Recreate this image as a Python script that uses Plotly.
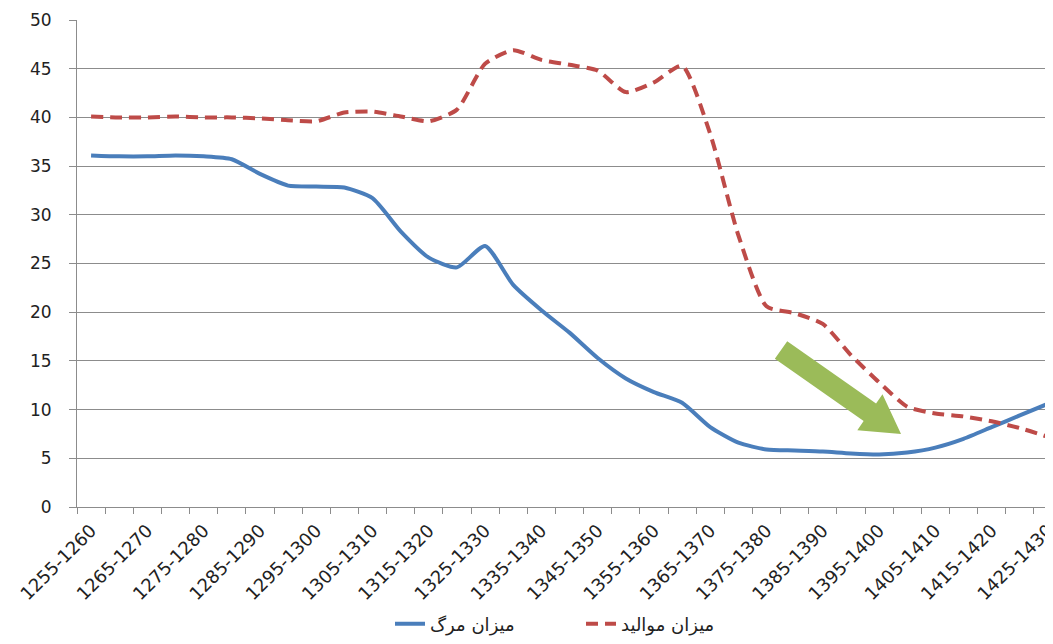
import plotly.graph_objects as go

categories = [
    "1255-1260", "1260-1265", "1265-1270", "1270-1275", "1275-1280",
    "1280-1285", "1285-1290", "1290-1295", "1295-1300", "1300-1305",
    "1305-1310", "1310-1315", "1315-1320", "1320-1325", "1325-1330",
    "1330-1335", "1335-1340", "1340-1345", "1345-1350", "1350-1355",
    "1355-1360", "1360-1365", "1365-1370", "1370-1375", "1375-1380",
    "1380-1385", "1385-1390", "1390-1395", "1395-1400", "1400-1405",
    "1405-1410", "1410-1415", "1415-1420", "1420-1425", "1425-1430",
]

death_rate = [
    36.1, 36.0, 36.0, 36.1, 36.0, 35.7, 34.2, 33.0, 32.9, 32.8,
    31.7, 28.3, 25.6, 24.6, 26.8, 22.8, 20.2, 17.9, 15.3, 13.2,
    11.8, 10.7, 8.2, 6.6, 5.9, 5.8, 5.7, 5.5, 5.4, 5.6,
    6.1, 7.0, 8.2, 9.4, 10.6,
]

birth_rate = [
    40.1, 40.0, 40.0, 40.1, 40.0, 40.0, 39.9, 39.7, 39.6, 40.5,
    40.6, 40.1, 39.6, 40.8, 45.5, 46.9, 45.9, 45.4, 44.8, 42.6,
    43.6, 45.3, 38.3, 27.9, 20.6, 19.9, 18.8, 15.6, 12.8, 10.3,
    9.6, 9.3, 8.8, 8.1, 7.2,
]

death_name = "میزان مرگ"
birth_name = "میزان موالید"

tick_text = [c if i % 2 == 0 else "" for i, c in enumerate(categories)]

# page body has an 8px default margin; figure sits at (8, 8) in the window
OFF = 8
W, H = 1045, 628
ML, MR, MT, MB = 69, 0, 12, 129
PW, PH = W - ML - MR, H - MT - MB


def to_paper(px, py):
    """window pixel -> paper coordinates"""
    return (px - OFF - ML) / PW, (H - MB - (py - OFF)) / PH


# green highlight arrow (decoration), outline in window-pixel geometry
arrow_px = [(774.8, 358.8), (863.7, 421.1), (857.3, 430.2), (901.0, 434.0),
            (882.5, 394.2), (876.1, 403.4), (787.2, 341.2)]
pts = [to_paper(x, y) for x, y in arrow_px]
arrow_path = "M " + " L ".join(f"{x:.4f},{y:.4f}" for x, y in pts) + " Z"

legend_x, legend_y = to_paper(390, 624)

fig = go.Figure()
fig.add_trace(go.Scatter(
    x=categories, y=death_rate, name=death_name, mode="lines",
    line=dict(color="#4A7EBB", width=4, shape="spline", smoothing=0.6),
))
fig.add_trace(go.Scatter(
    x=categories, y=birth_rate, name=birth_name, mode="lines",
    line=dict(color="#BE4B48", width=4, dash="12px,7px", shape="spline", smoothing=0.6),
))

fig.add_shape(type="path", path=arrow_path, xref="paper", yref="paper",
              fillcolor="#9BBB59", line=dict(width=0), layer="above")

grid = "#8C8C8C"
fig.update_layout(
    width=W, height=H,
    margin=dict(l=ML, r=MR, t=MT, b=MB, autoexpand=False),
    paper_bgcolor="white", plot_bgcolor="white",
    font=dict(family="DejaVu Sans", color="#222222"),
    showlegend=True,
    legend=dict(orientation="h", x=legend_x, xanchor="left", y=legend_y, yanchor="middle",
                entrywidth=146, entrywidthmode="pixels",
                font=dict(size=18, family="DejaVu Sans", color="#222222")),
    xaxis=dict(
        type="category", range=[-0.5, 34.18], automargin=False,
        tickmode="array", tickvals=categories, ticktext=tick_text,
        tickson="boundaries", ticks="outside", ticklen=6, tickcolor=grid,
        tickangle=-45, tickfont=dict(size=18), ticklabelstandoff=5,
        showgrid=False, showline=True, linecolor=grid, linewidth=1,
        zeroline=False,
    ),
    yaxis=dict(
        range=[0, 50], dtick=5, ticks="outside", ticklen=7, tickcolor=grid,
        tickfont=dict(size=17), ticklabelstandoff=14, automargin=False,
        showgrid=True, gridcolor=grid, gridwidth=1,
        showline=True, linecolor=grid, linewidth=1, zeroline=False,
    ),
)

fig.write_html("out.html")
